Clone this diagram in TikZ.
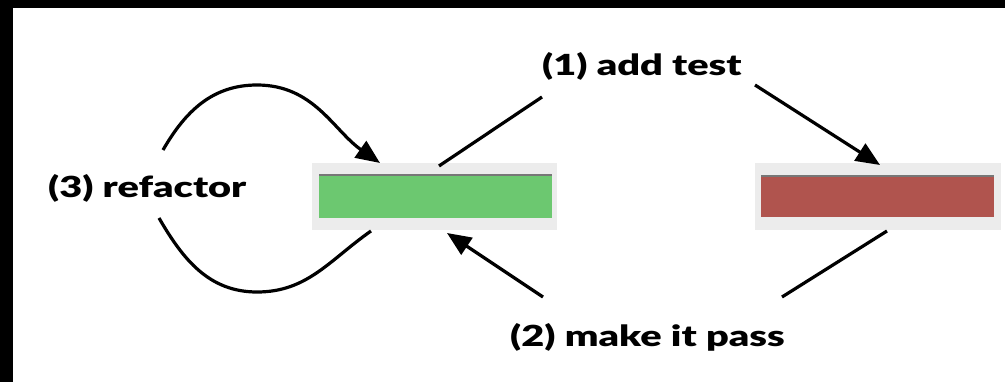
\documentclass[tikz,border=0pt]{standalone}
\usepackage{fontspec}
\setmainfont{Lato}
\newfontfamily\heavyfont{Lato Black}
\usetikzlibrary{arrows.meta}
\definecolor{barbg}{HTML}{ECECEC}
\definecolor{greenbar}{HTML}{6CC870}
\definecolor{redbar}{HTML}{B0544E}
\definecolor{barline}{HTML}{777777}
\newcommand{\wide}[1]{\scalebox{1.37}[1]{#1}}
\tikzset{
  lbl/.style={font=\fontsize{29}{31}\selectfont\heavyfont, inner sep=0pt, anchor=base west},
  conn/.style={line width=3.2pt, black},
  tip/.style={-{Triangle[length=24pt,width=20pt]}},
}
\begin{document}
\begin{tikzpicture}[x=1pt,y=-1pt]
\useasboundingbox (0,0) rectangle (1005,382);
\fill[black] (0,0) rectangle (1005,382);
\fill[white] (13,8) rectangle (1005,382);
% bars
\node[fill=barbg, minimum width=245pt, minimum height=67pt, inner sep=0pt, anchor=north west] (gbg) at (312,163) {};
\node[fill=greenbar, minimum width=233pt, minimum height=44pt, inner sep=0pt, anchor=north west] (green) at (319,174) {};
\draw[barline, line width=2pt] (green.north west) ++(0,1) -- ([yshift=-1pt]green.north east);
\node[fill=barbg, minimum width=246pt, minimum height=67pt, inner sep=0pt, anchor=north west] (rbg) at (755,163) {};
\node[fill=redbar, minimum width=233pt, minimum height=42pt, inner sep=0pt, anchor=north west] (red) at (761,175) {};
\draw[barline, line width=2pt] (red.north west) ++(0,1) -- ([yshift=-1pt]red.north east);
% labels
\node[lbl] (add) at (542,76) {\wide{(1) add test}};
\node[lbl] (pass) at (510,346) {\wide{(2) make it pass}};
\node[lbl] (refac) at (48,198) {\wide{(3) refactor}};
% connector points
\coordinate (a1) at (439,166);
\coordinate (a2) at (542,97);
\coordinate (a3) at (755,85);
\coordinate (a4) at (880,165);
\coordinate (b1) at (887,231);
\coordinate (b2) at (782,297);
\coordinate (b3) at (543,297);
\coordinate (b4) at (447,233);
\coordinate (r1) at (163,150);
\coordinate (r2) at (380,163);
\coordinate (r3) at (159,218);
\coordinate (r4) at (371,231);
% connectors
\draw[conn] (a1) -- (a2);
\draw[conn, tip] (a3) -- (a4);
\draw[conn] (b1) -- (b2);
\draw[conn, tip] (b3) -- (b4);
\draw[conn, tip] (r1) to[out=60, in=180] (257,85) to[out=0, in=145] (r2);
\draw[conn] (r3) to[out=-60, in=180] (257,292) to[out=0, in=-145] (r4);
\end{tikzpicture}
\end{document}
